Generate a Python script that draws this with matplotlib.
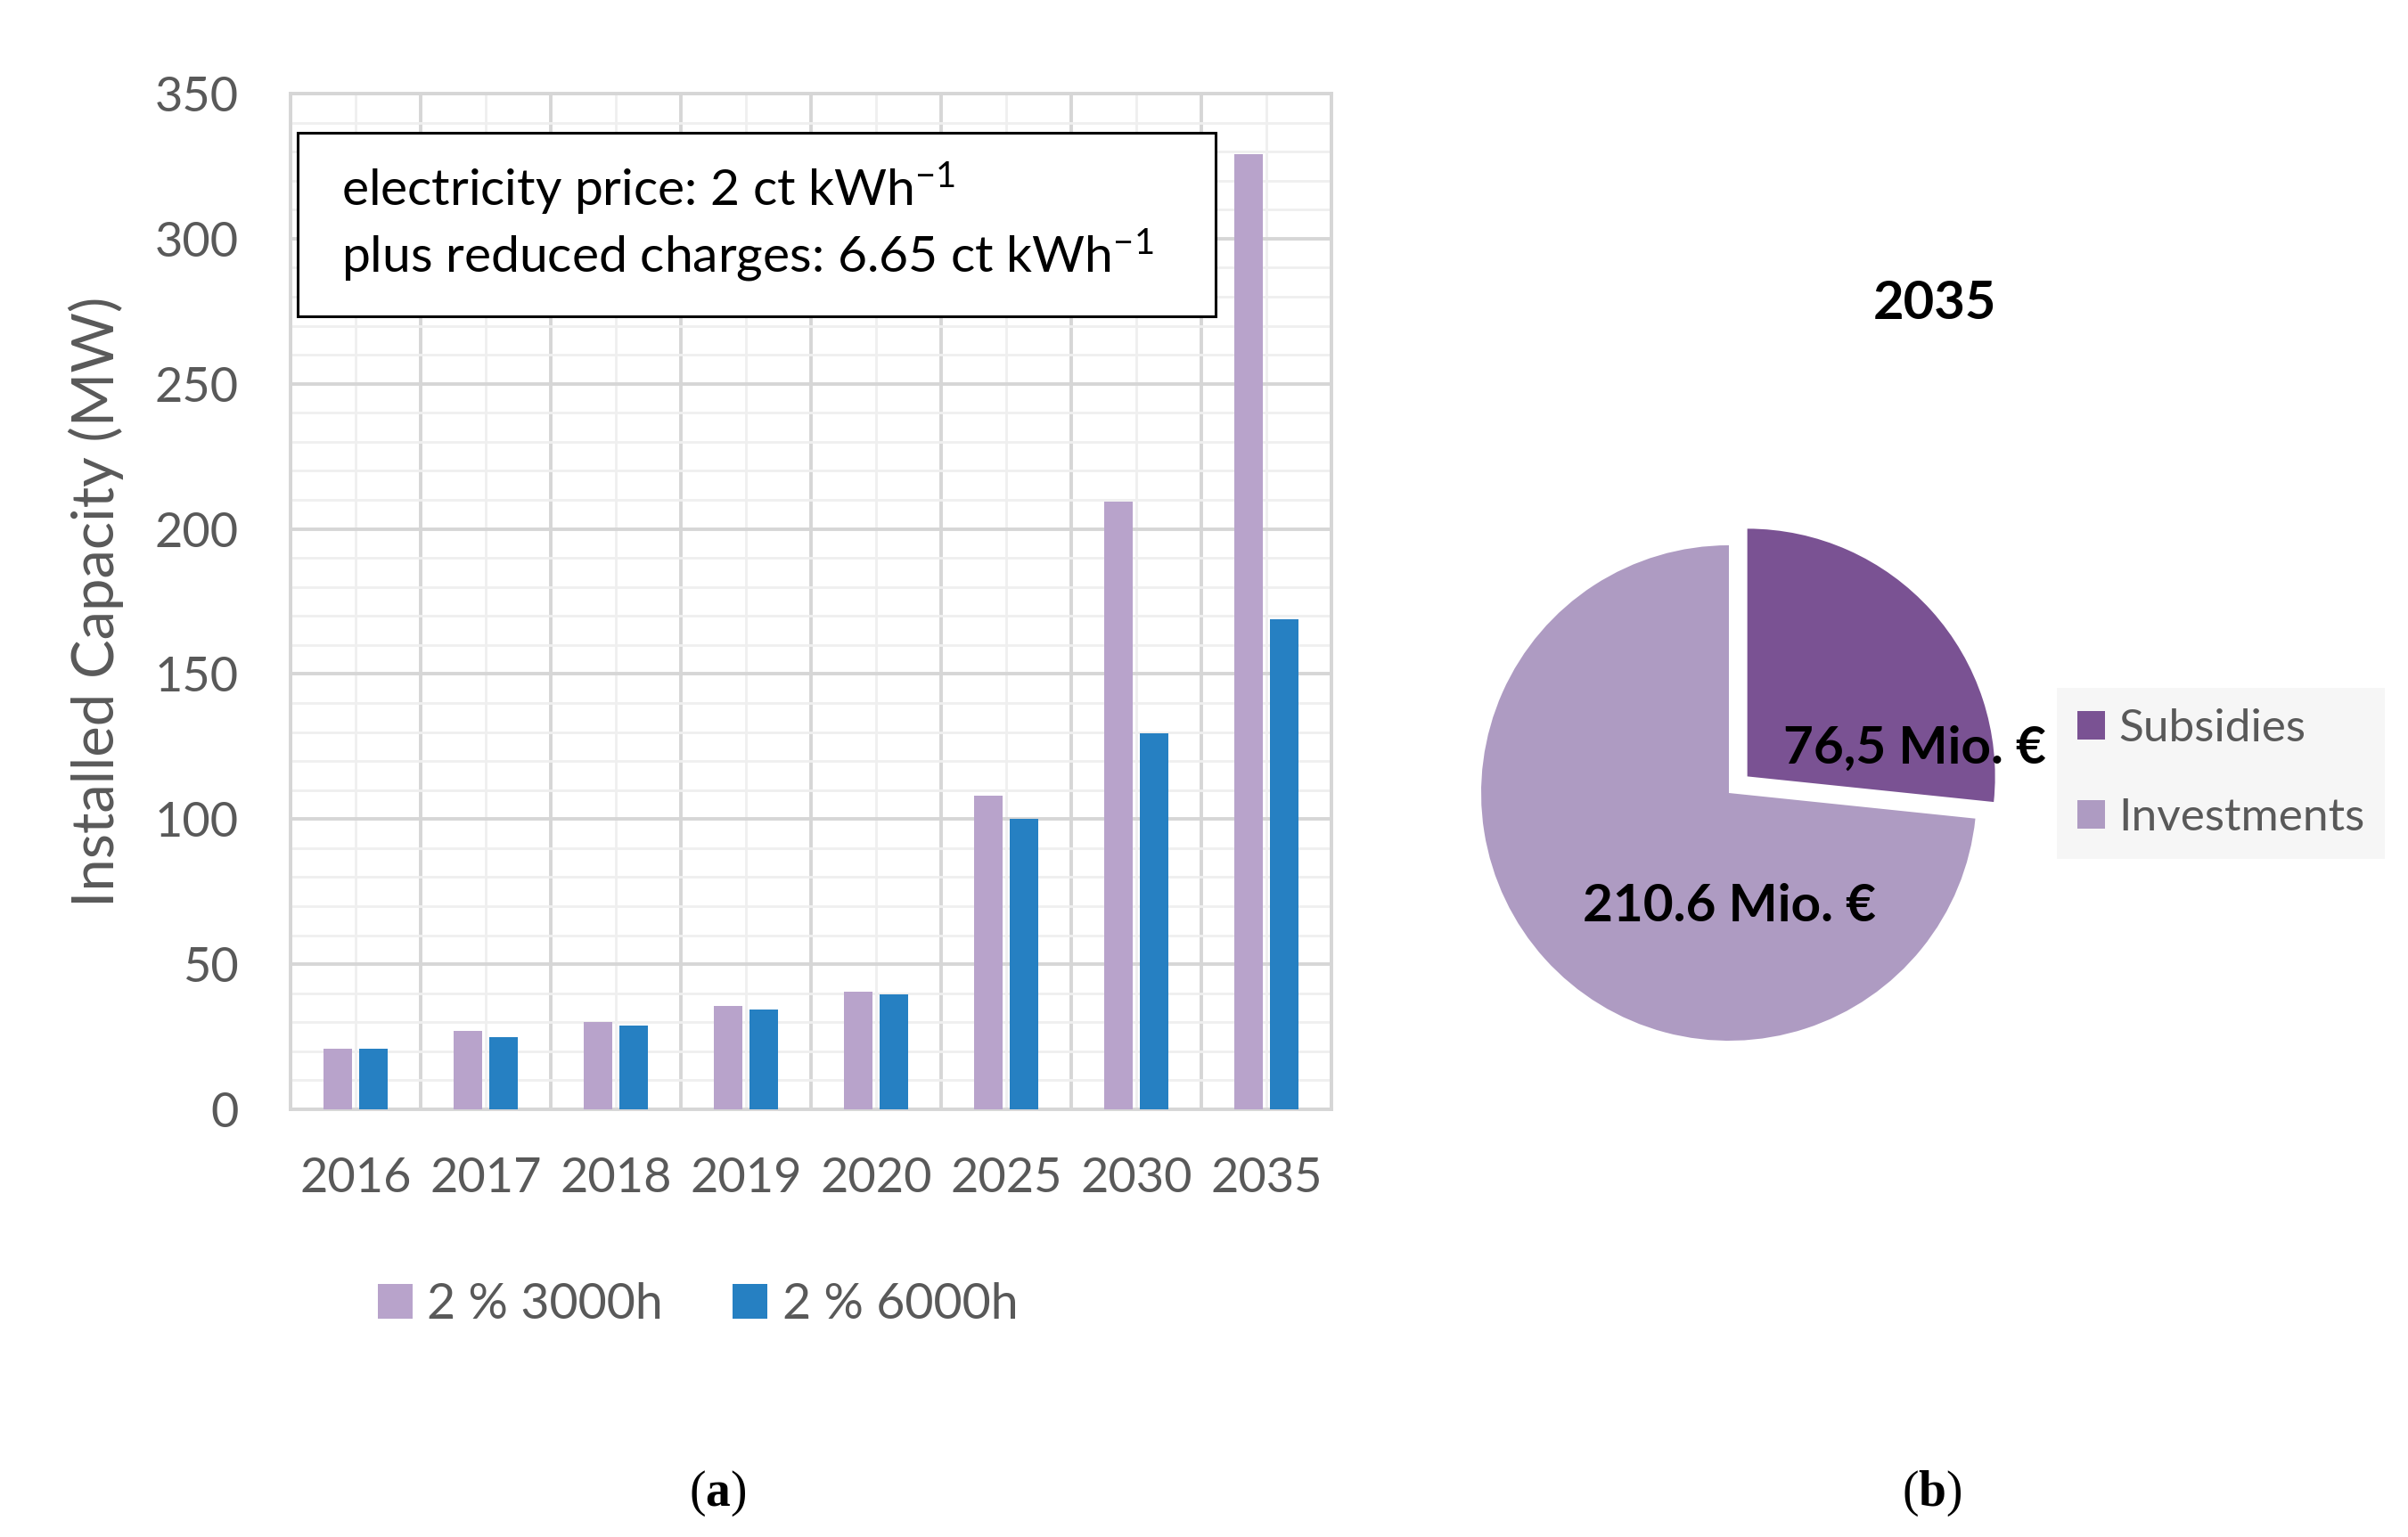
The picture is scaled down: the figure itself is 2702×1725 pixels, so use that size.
import matplotlib
matplotlib.use("Agg")
import matplotlib.pyplot as plt
import numpy as np
from matplotlib.patches import Rectangle
from matplotlib.ticker import MultipleLocator

# ---------------- data ----------------
years = ['2016', '2017', '2018', '2019', '2020', '2025', '2030', '2035']
cap_3000h = [21, 27, 30, 35.5, 40.5, 108, 209.5, 329]
cap_6000h = [21, 25, 29, 34.5, 39.5, 100, 129.5, 169]
series_names = ['2 % 3000h', '2 % 6000h']
pie_labels = ['Subsidies', 'Investments']
pie_values = [76.5, 210.6]
pie_texts = ['76,5 Mio. €', '210.6 Mio. €']
pie_title = '2035'

FONT = 'Lato'
plt.rcParams['font.family'] = [FONT, 'DejaVu Sans']
plt.rcParams['mathtext.fontset'] = 'custom'
plt.rcParams['mathtext.rm'] = FONT
plt.rcParams['mathtext.it'] = FONT
plt.rcParams['mathtext.bf'] = 'Liberation Serif:bold'

W, H = 2702, 1725
fig = plt.figure(figsize=(W / 100, H / 100), dpi=100)

c_lav = '#b8a3cb'
c_blue = '#2680c2'
c_sub = '#7a5293'
c_inv = '#ae9bc2'
tick_col = '#595959'

# ---------------- bar chart ----------------
ax = fig.add_axes([326 / W, 1 - 1245 / H, 1168 / W, 1140 / H])
x = np.arange(len(years))
bw = 0.22
ax.bar(x - 0.135, cap_3000h, bw, color=c_lav, label=series_names[0], zorder=3)
ax.bar(x + 0.135, cap_6000h, bw, color=c_blue, label=series_names[1], zorder=3)
ax.set_xlim(-0.5, len(years) - 0.5)
ax.set_ylim(0, 350)
ax.yaxis.set_major_locator(MultipleLocator(50))
ax.yaxis.set_minor_locator(MultipleLocator(10))
ax.set_xticks(x)
ax.set_xticklabels(years)
ax.set_xticks(np.arange(-0.5, len(years)), minor=True)
ax.grid(which='major', axis='y', color='#d6d6d6', lw=2.8, zorder=1)
ax.grid(which='minor', axis='y', color='#efefef', lw=2.0, zorder=1)
ax.grid(which='minor', axis='x', color='#d6d6d6', lw=2.8, zorder=1)
ax.grid(which='major', axis='x', color='#efefef', lw=2.0, zorder=1)
ax.tick_params(which='both', length=0)
ax.tick_params(axis='y', labelsize=39, labelcolor=tick_col, pad=42)
ax.tick_params(axis='x', labelsize=39, labelcolor=tick_col, pad=38)
for s in ax.spines.values():
    s.set_color('#d6d6d6')
    s.set_linewidth(2.8)
ax.set_ylabel('Installed Capacity (MW)', fontsize=47, color=tick_col)
ax.yaxis.set_label_coords(-0.160, 0.5)

# annotation box
bx0, by0, bx1, by1 = 334, 149, 1364, 355
fig.patches.append(Rectangle((bx0 / W, 1 - by1 / H), (bx1 - bx0) / W, (by1 - by0) / H,
                             transform=fig.transFigure, facecolor='white',
                             edgecolor='black', lw=2.2, zorder=5))
fig.text(383 / W, 1 - 212 / H, r'electricity price: 2 ct kWh$^{-1}$', fontsize=41,
         color='black', va='center', ha='left', zorder=6)
fig.text(383 / W, 1 - 287 / H, r'plus reduced charges: 6.65 ct kWh$^{-1}$', fontsize=41,
         color='black', va='center', ha='left', zorder=6)

h, l = ax.get_legend_handles_labels()
fig.legend(h, l, loc='center', bbox_to_anchor=(783 / W, 1 - 1464 / H), ncol=2,
           frameon=False, fontsize=40, labelcolor=tick_col, handlelength=0.7,
           handleheight=0.7, handletextpad=0.3, columnspacing=1.4)

# ---------------- pie chart ----------------
R = 278
half = 350
pax = fig.add_axes([(1940 - half) / W, (H - 890 - half) / H, 2 * half / W, 2 * half / H])
wedges, _ = pax.pie(pie_values, colors=[c_sub, c_inv], startangle=90, counterclock=False,
                    explode=[0.1, 0.0], radius=1.0)
lim = half / R
pax.set_xlim(-lim, lim)
pax.set_ylim(-lim, lim)
pax.set_aspect('equal')
pax.axis('off')
pax.text(0.75, 0.18, pie_texts[0], fontsize=42, fontweight='bold', ha='center',
         va='center', color='black')
pax.text(0.0, -0.46, pie_texts[1], fontsize=42, fontweight='bold', ha='center',
         va='center', color='black')
fig.text(2171 / W, 1 - 341 / H, pie_title, fontsize=43, fontweight='bold',
         ha='center', va='center')

lg = fig.legend(wedges, pie_labels, loc='center',
                bbox_to_anchor=(2492 / W, 1 - 868 / H), frameon=True,
                fontsize=37, labelcolor=tick_col, handlelength=0.6, handleheight=0.6,
                handletextpad=0.3, labelspacing=1.05, borderpad=0.45)
lg.get_frame().set_facecolor('#f4f4f4')
lg.get_frame().set_edgecolor('none')
lg.get_frame().set_boxstyle('square', pad=0)
lg.set_zorder(-1)

# ---------------- panel letters ----------------
fig.text(805 / W, 1 - 1676 / H, r'($\mathbf{a}$)', fontsize=40, ha='center', va='center',
         family='Liberation Serif')
fig.text(2168 / W, 1 - 1676 / H, r'($\mathbf{b}$)', fontsize=40, ha='center', va='center',
         family='Liberation Serif')

fig.savefig('out.png', dpi=100, facecolor='white')
